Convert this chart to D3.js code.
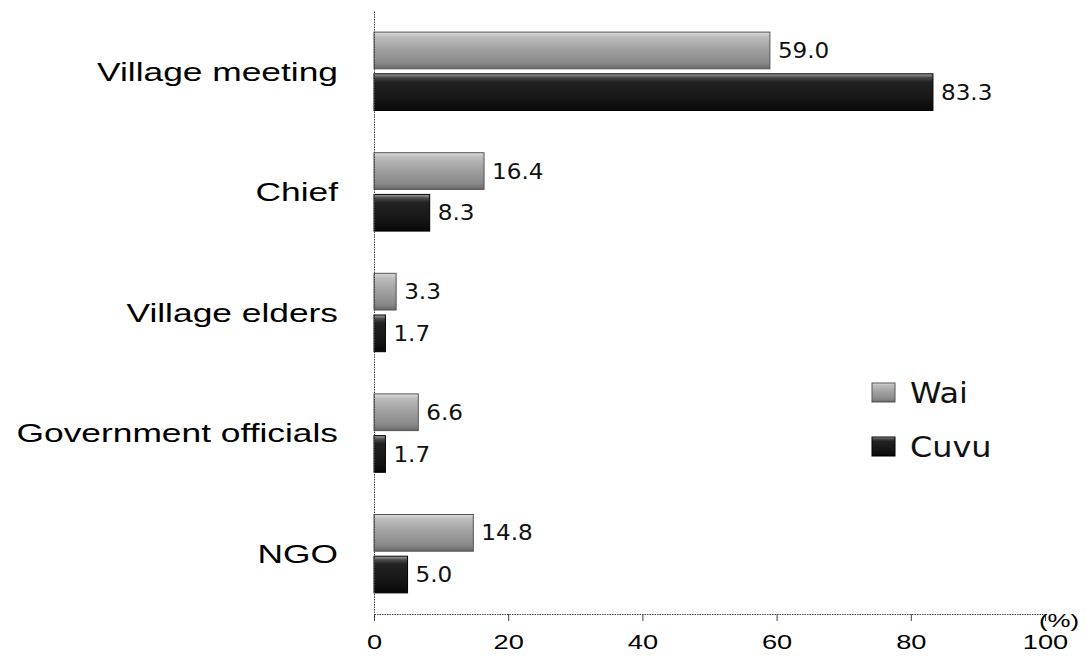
<!DOCTYPE html>
<html>
<head>
<meta charset="utf-8">
<script src="https://cdn.jsdelivr.net/npm/d3@7"></script>
<style>
  html, body { margin: 0; padding: 0; background: #fff; }
  svg { display: block; }
</style>
</head>
<body>
<svg id="chart" width="1091" height="656"></svg>
<script>
// Categories (top to bottom) and the two series, in percent
const categories = ["Village meeting", "Chief", "Village elders", "Government officials", "NGO"];
const seriesNames = ["Wai", "Cuvu"];
const waiValues  = [59.0, 16.4, 3.3, 6.6, 14.8];
const cuvuValues = [83.3, 8.3, 1.7, 1.7, 5.0];
const xTicks = [0, 20, 40, 60, 80, 100];
const unitLabel = "(%)";

const rows = categories.map((c, i) => ({
  category: c,
  values: [
    { series: "Wai",  value: waiValues[i] },
    { series: "Cuvu", value: cuvuValues[i] }
  ]
}));

const svg = d3.select("#chart");
const axisX0 = 374, axisX1 = 1045, plotTop = 11, plotBottom = 614;
const stretch = 1.36;   // wide glyphs for the Arial-style labels
const numStretch = 1.1;

const x = d3.scaleLinear().domain([0, 100]).range([axisX0, axisX1]);
const y0 = d3.scaleBand().domain(categories).range([plotTop, plotBottom])
  .paddingInner(0.35).paddingOuter(0.175);
const y1 = d3.scaleBand().domain(seriesNames).range([0, y0.bandwidth()]).paddingInner(0.12);

// Bar fills: light grey for Wai, near-black for Cuvu, each with a shaded top edge
const defs = svg.append("defs");
const gWai = defs.append("linearGradient").attr("id", "gradWai")
  .attr("x1", 0).attr("y1", 0).attr("x2", 0).attr("y2", 1);
[[0, "#dcdcdc"], [0.12, "#bdbdbd"], [0.45, "#a2a2a2"], [0.85, "#888"], [1, "#666"]]
  .forEach(([o, c]) => gWai.append("stop").attr("offset", o).attr("stop-color", c));
const gCuvu = defs.append("linearGradient").attr("id", "gradCuvu")
  .attr("x1", 0).attr("y1", 0).attr("x2", 0).attr("y2", 1);
[[0, "#a8a8a8"], [0.1, "#4a4a4a"], [0.22, "#222"], [0.7, "#151515"], [1, "#080808"]]
  .forEach(([o, c]) => gCuvu.append("stop").attr("offset", o).attr("stop-color", c));
const fill = { Wai: "url(#gradWai)", Cuvu: "url(#gradCuvu)" };
const edge = { Wai: "#555", Cuvu: "#000" };

// Bars
const groups = svg.append("g").selectAll("g").data(rows).join("g")
  .attr("transform", d => `translate(0,${y0(d.category)})`);

groups.selectAll("rect").data(d => d.values).join("rect")
  .attr("x", x(0))
  .attr("y", d => y1(d.series))
  .attr("width", d => x(d.value) - x(0))
  .attr("height", y1.bandwidth())
  .attr("fill", d => fill[d.series])
  .attr("stroke", d => edge[d.series])
  .attr("stroke-width", 1);

// Value labels
groups.selectAll("text.val").data(d => d.values).join("text")
  .attr("class", "val")
  .attr("transform", d => `translate(${x(d.value) + 8},${y1(d.series) + y1.bandwidth() / 2}) scale(${numStretch},1)`)
  .attr("dy", "0.36em")
  .attr("font-family", "'DejaVu Sans', Verdana, sans-serif")
  .attr("font-size", 21)
  .attr("fill", "#111")
  .text(d => d.value.toFixed(1));

// X axis
const xAxis = svg.append("g")
  .attr("transform", `translate(0,${plotBottom})`)
  .call(d3.axisBottom(x).tickValues(xTicks).tickSizeInner(7).tickSizeOuter(0));
xAxis.select(".domain").attr("stroke", "#444").attr("stroke-dasharray", "1.5,1");
xAxis.selectAll(".tick line").attr("stroke", "#444");
xAxis.selectAll(".tick text")
  .attr("font-family", "'Liberation Sans', Arial, sans-serif")
  .attr("font-size", 20)
  .attr("fill", "#000")
  .attr("y", 21)
  .attr("transform", `scale(${stretch},1)`);

// Y axis with category names
const yAxis = svg.append("g")
  .attr("transform", `translate(${axisX0},0)`)
  .call(d3.axisLeft(y0).tickSize(0).tickPadding(0));
yAxis.select(".domain").attr("stroke", "#444").attr("stroke-dasharray", "1.5,1");
yAxis.selectAll(".tick text")
  .attr("font-family", "'Liberation Sans', Arial, sans-serif")
  .attr("font-size", 26)
  .attr("fill", "#000")
  .attr("x", -36 / stretch)
  .attr("dy", "0.36em")
  .attr("transform", `scale(${stretch},1)`);

// Unit label at the end of the x axis
svg.append("text")
  .attr("transform", `translate(${axisX1 + 14},${plotBottom + 13}) scale(${stretch},1)`)
  .attr("text-anchor", "middle")
  .attr("font-family", "'Liberation Sans', Arial, sans-serif")
  .attr("font-size", 19)
  .attr("fill", "#000")
  .text(unitLabel);

// Legend
const legend = svg.append("g").attr("transform", "translate(872,383)");
const items = legend.selectAll("g").data(seriesNames).join("g")
  .attr("transform", (d, i) => `translate(0,${i * 54})`);
items.append("rect")
  .attr("width", 23).attr("height", 19)
  .attr("fill", d => fill[d]).attr("stroke", d => edge[d]);
items.append("text")
  .attr("transform", `translate(38,20) scale(${numStretch},1)`)
  .attr("font-family", "'DejaVu Sans', Verdana, sans-serif")
  .attr("font-size", 29)
  .attr("fill", "#111")
  .text(d => d);
</script>
</body>
</html>
